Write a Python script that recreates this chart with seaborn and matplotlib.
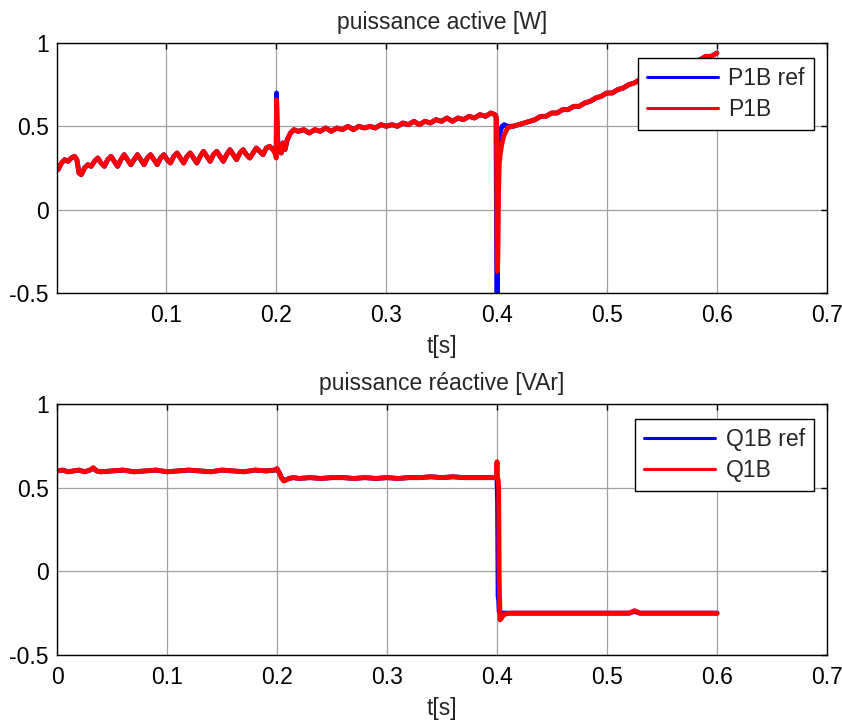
import matplotlib
matplotlib.use("Agg")
import matplotlib.pyplot as plt
import seaborn as sns

# --------------------------
# DATA
# --------------------------
# puissance active, shared time axis for P1B ref / P1B
t_p = [
    0.002, 0.005, 0.008, 0.011, 0.014, 0.017, 0.019, 0.021, 0.023, 0.026,
    0.029, 0.032, 0.035, 0.038, 0.041, 0.044, 0.047, 0.050, 0.053, 0.056,
    0.059, 0.062, 0.065, 0.068, 0.071, 0.074, 0.077, 0.080, 0.083, 0.086,
    0.089, 0.092, 0.095, 0.098, 0.101, 0.104, 0.107, 0.110, 0.113, 0.116,
    0.119, 0.122, 0.125, 0.128, 0.131, 0.134, 0.137, 0.140, 0.143, 0.146,
    0.149, 0.152, 0.155, 0.158, 0.161, 0.164, 0.167, 0.170, 0.173, 0.176,
    0.179, 0.182, 0.185, 0.188, 0.191, 0.194, 0.197, 0.1995, 0.2000, 0.2003,
    0.2008, 0.2015, 0.2030, 0.2045, 0.2060, 0.2080, 0.2100, 0.2130, 0.2160, 0.2200,
    0.225, 0.230, 0.235, 0.240, 0.245, 0.250, 0.255, 0.260, 0.265, 0.270,
    0.275, 0.280, 0.285, 0.290, 0.295, 0.300, 0.305, 0.310, 0.315, 0.320,
    0.325, 0.330, 0.335, 0.340, 0.345, 0.350, 0.355, 0.360, 0.365, 0.370,
    0.375, 0.380, 0.385, 0.390, 0.395, 0.3985, 0.3995, 0.4000, 0.4003, 0.4007,
    0.4012, 0.4018, 0.4025, 0.4035, 0.4050, 0.4070, 0.4100, 0.4130, 0.415, 0.420,
    0.425, 0.430, 0.435, 0.440, 0.445, 0.450, 0.455, 0.460, 0.465, 0.470,
    0.475, 0.480, 0.485, 0.490, 0.495, 0.500, 0.505, 0.510, 0.515, 0.520,
    0.525, 0.530, 0.535, 0.540, 0.545, 0.550, 0.555, 0.560, 0.565, 0.570,
    0.575, 0.580, 0.585, 0.590, 0.595, 0.600,
]
P1B_ref = [
    0.24, 0.28, 0.30, 0.29, 0.31, 0.32, 0.30, 0.22, 0.21, 0.25,
    0.27, 0.26, 0.29, 0.31, 0.28, 0.26, 0.30, 0.32, 0.29, 0.26,
    0.30, 0.33, 0.30, 0.27, 0.30, 0.33, 0.30, 0.27, 0.31, 0.33,
    0.30, 0.27, 0.31, 0.33, 0.30, 0.28, 0.32, 0.34, 0.31, 0.28,
    0.32, 0.34, 0.31, 0.28, 0.32, 0.35, 0.32, 0.29, 0.33, 0.35,
    0.32, 0.29, 0.33, 0.36, 0.33, 0.30, 0.34, 0.36, 0.33, 0.31,
    0.34, 0.37, 0.35, 0.33, 0.37, 0.38, 0.36, 0.37, 0.36, 0.70,
    0.50, 0.40, 0.36, 0.34, 0.40, 0.36, 0.42, 0.46, 0.48, 0.47,
    0.48, 0.46, 0.48, 0.47, 0.49, 0.47, 0.49, 0.48, 0.50, 0.48,
    0.50, 0.49, 0.50, 0.49, 0.51, 0.50, 0.51, 0.50, 0.52, 0.51,
    0.53, 0.51, 0.53, 0.52, 0.54, 0.53, 0.55, 0.53, 0.55, 0.54,
    0.56, 0.55, 0.57, 0.56, 0.58, 0.57, 0.56, -0.10, -0.55, -0.55,
    0.10, 0.33, 0.42, 0.47, 0.50, 0.51, 0.50, 0.50, 0.50, 0.51,
    0.52, 0.53, 0.54, 0.56, 0.56, 0.58, 0.58, 0.60, 0.60, 0.62,
    0.62, 0.64, 0.65, 0.67, 0.68, 0.70, 0.70, 0.72, 0.73, 0.75,
    0.76, 0.78, 0.78, 0.80, 0.81, 0.82, 0.83, 0.85, 0.85, 0.87,
    0.88, 0.89, 0.90, 0.92, 0.92, 0.94,
]
P1B = [
    0.24, 0.28, 0.30, 0.29, 0.31, 0.32, 0.30, 0.22, 0.21, 0.25,
    0.27, 0.26, 0.29, 0.31, 0.28, 0.26, 0.30, 0.32, 0.29, 0.26,
    0.30, 0.33, 0.30, 0.27, 0.30, 0.33, 0.30, 0.27, 0.31, 0.33,
    0.30, 0.27, 0.31, 0.33, 0.30, 0.28, 0.32, 0.34, 0.31, 0.28,
    0.32, 0.34, 0.31, 0.28, 0.32, 0.35, 0.32, 0.29, 0.33, 0.35,
    0.32, 0.29, 0.33, 0.36, 0.33, 0.30, 0.34, 0.36, 0.33, 0.31,
    0.34, 0.37, 0.35, 0.33, 0.37, 0.38, 0.36, 0.33, 0.31, 0.66,
    0.55, 0.38, 0.36, 0.34, 0.40, 0.36, 0.42, 0.46, 0.48, 0.47,
    0.48, 0.46, 0.48, 0.47, 0.49, 0.47, 0.49, 0.48, 0.50, 0.48,
    0.50, 0.49, 0.50, 0.49, 0.51, 0.50, 0.51, 0.50, 0.52, 0.51,
    0.53, 0.51, 0.53, 0.52, 0.54, 0.53, 0.55, 0.53, 0.55, 0.54,
    0.56, 0.55, 0.57, 0.56, 0.58, 0.57, 0.56, 0.55, -0.10, -0.37,
    -0.30, 0.10, 0.28, 0.34, 0.40, 0.45, 0.49, 0.50, 0.50, 0.51,
    0.52, 0.53, 0.54, 0.56, 0.56, 0.58, 0.58, 0.60, 0.60, 0.62,
    0.62, 0.64, 0.65, 0.67, 0.68, 0.70, 0.70, 0.72, 0.73, 0.75,
    0.76, 0.78, 0.78, 0.80, 0.81, 0.82, 0.83, 0.85, 0.85, 0.87,
    0.88, 0.89, 0.90, 0.92, 0.92, 0.94,
]

# puissance reactive, shared time axis for Q1B ref / Q1B
t_q = [
    0.000, 0.005, 0.010, 0.015, 0.020, 0.025, 0.030, 0.033, 0.036, 0.040,
    0.050, 0.060, 0.070, 0.080, 0.090, 0.100, 0.110, 0.120, 0.130, 0.140,
    0.150, 0.160, 0.170, 0.180, 0.190, 0.198, 0.200, 0.202, 0.204, 0.206,
    0.208, 0.211, 0.215, 0.220, 0.230, 0.240, 0.250, 0.260, 0.270, 0.280,
    0.290, 0.300, 0.310, 0.320, 0.330, 0.340, 0.350, 0.360, 0.370, 0.380,
    0.390, 0.3985, 0.3995, 0.4000, 0.4005, 0.4010, 0.4015, 0.4020, 0.4028, 0.4040,
    0.4060, 0.410, 0.420, 0.430, 0.440, 0.450, 0.460, 0.470, 0.480, 0.490,
    0.500, 0.510, 0.520, 0.525, 0.530, 0.540, 0.550, 0.560, 0.570, 0.580,
    0.590, 0.600,
]
Q1B_ref = [
    0.600, 0.605, 0.595, 0.600, 0.605, 0.595, 0.605, 0.615, 0.600, 0.595,
    0.600, 0.605, 0.595, 0.600, 0.605, 0.595, 0.600, 0.605, 0.600, 0.595,
    0.605, 0.600, 0.595, 0.605, 0.600, 0.605, 0.610, 0.590, 0.560, 0.545,
    0.545, 0.555, 0.560, 0.555, 0.560, 0.555, 0.560, 0.560, 0.555, 0.560,
    0.555, 0.560, 0.555, 0.560, 0.560, 0.565, 0.560, 0.565, 0.560, 0.560,
    0.560, 0.560, 0.560, 0.550, 0.420, -0.150, -0.170, -0.240, -0.250, -0.250,
    -0.250, -0.250, -0.250, -0.250, -0.250, -0.250, -0.250, -0.250, -0.250, -0.250,
    -0.250, -0.250, -0.250, -0.240, -0.250, -0.250, -0.250, -0.250, -0.250, -0.250,
    -0.250, -0.250,
]
Q1B = [
    0.600, 0.605, 0.595, 0.600, 0.605, 0.595, 0.605, 0.620, 0.600, 0.595,
    0.600, 0.605, 0.595, 0.600, 0.605, 0.595, 0.600, 0.605, 0.600, 0.595,
    0.605, 0.600, 0.595, 0.605, 0.600, 0.605, 0.615, 0.590, 0.560, 0.540,
    0.545, 0.555, 0.560, 0.555, 0.560, 0.555, 0.560, 0.560, 0.555, 0.560,
    0.555, 0.560, 0.555, 0.560, 0.560, 0.565, 0.560, 0.565, 0.560, 0.560,
    0.560, 0.560, 0.565, 0.655, 0.560, 0.550, 0.500, -0.050, -0.290, -0.280,
    -0.260, -0.250, -0.250, -0.250, -0.250, -0.250, -0.250, -0.250, -0.250, -0.250,
    -0.250, -0.250, -0.250, -0.235, -0.250, -0.250, -0.250, -0.250, -0.250, -0.250,
    -0.250, -0.250,
]

# top panel starts just after t=0, so its "0" label is not drawn
x_ticks_top = [0.1, 0.2, 0.3, 0.4, 0.5, 0.6, 0.7]
x_ticklabels_top = ["0.1", "0.2", "0.3", "0.4", "0.5", "0.6", "0.7"]
x_ticks_bottom = [0.0, 0.1, 0.2, 0.3, 0.4, 0.5, 0.6, 0.7]
x_ticklabels_bottom = ["0", "0.1", "0.2", "0.3", "0.4", "0.5", "0.6", "0.7"]
y_ticks = [-0.5, 0.0, 0.5, 1.0]
y_ticklabels = ["-0.5", "0", "0.5", "1"]

# --------------------------
# STYLE
# --------------------------
sns.set_theme(style="white")
plt.rcParams["font.family"] = ["Liberation Sans", "DejaVu Sans"]
FS = 16.5
plt.rcParams.update({
    "font.size": FS,
    "xtick.direction": "in",
    "ytick.direction": "in",
    "xtick.top": True,
    "ytick.right": True,
    "xtick.major.size": 4,
    "ytick.major.size": 4,
    "xtick.color": "black",
    "ytick.color": "black",
    "axes.edgecolor": "black",
    "axes.linewidth": 1.0,
})

LINE_W = 3.5


def draw_panel(ax, t, ref, meas, ref_label, meas_label, title, xmin,
               xticks, xticklabels):
    sns.lineplot(x=t, y=ref, ax=ax, color="#0000ff", lw=LINE_W,
                 label=ref_label, estimator=None, sort=False)
    sns.lineplot(x=t, y=meas, ax=ax, color="#ff0000", lw=LINE_W,
                 label=meas_label, estimator=None, sort=False)
    ax.set_xlim(xmin, 0.7)
    ax.set_ylim(-0.5, 1.0)
    ax.set_xticks(xticks)
    ax.set_xticklabels(xticklabels)
    ax.set_yticks(y_ticks)
    ax.set_yticklabels(y_ticklabels)
    ax.tick_params(axis="x", labelsize=FS, width=1, pad=8)
    ax.tick_params(axis="y", labelsize=FS, width=1, pad=6)
    ax.grid(True, color="#a0a0a0", lw=0.9)
    for sp in ax.spines.values():
        sp.set_visible(True)
        sp.set_color("black")
    ax.set_title(title, fontsize=FS, pad=10)
    ax.set_xlabel("t[s]", fontsize=FS, labelpad=6)
    ax.set_ylabel("")
    leg = ax.legend(loc="upper right", bbox_to_anchor=(0.983, 0.942),
                    borderaxespad=0, fancybox=False, framealpha=1,
                    edgecolor="black", fontsize=FS, handlelength=3.1,
                    handletextpad=0.45, labelspacing=0.35, borderpad=0.4)
    leg.get_frame().set_linewidth(1.0)
    for line in leg.get_lines():
        line.set_linewidth(2.2)


fig = plt.figure(figsize=(8.42, 7.26), dpi=100)
ax1 = fig.add_axes([57 / 842, 1 - 293 / 726, 770 / 842, 250 / 726])
ax2 = fig.add_axes([57 / 842, 1 - 655 / 726, 770 / 842, 251 / 726])

draw_panel(ax1, t_p, P1B_ref, P1B, "P1B ref", "P1B",
           "puissance active [W]", 0.001, x_ticks_top, x_ticklabels_top)
draw_panel(ax2, t_q, Q1B_ref, Q1B, "Q1B ref", "Q1B",
           "puissance réactive [VAr]", 0.0, x_ticks_bottom, x_ticklabels_bottom)

fig.savefig("out.png", dpi=100, facecolor="white")
